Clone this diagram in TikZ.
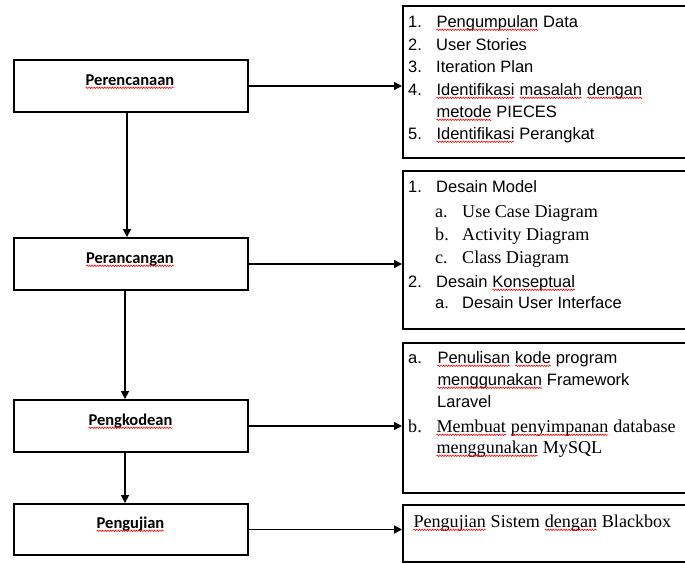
\documentclass[tikz,border=0pt]{standalone}
\usepackage{fontspec}
\usetikzlibrary{arrows.meta,decorations.pathmorphing}
\newfontfamily\arialf{Liberation Sans}
\newfontfamily\tnrf{Liberation Serif}
\newfontfamily\calibf{Carlito}
\newcommand\spl[1]{\tikz[baseline=(sq.base),x=1pt,y=1pt]{\node[inner sep=0pt,outer sep=0pt,anchor=base] (sq) at (0,0) {#1};
 \draw[red, line width=0.6pt, decorate, decoration={snake, amplitude=0.7pt, segment length=2.6pt}] ([yshift=-2.8pt]sq.base west) -- ([yshift=-2.8pt]sq.base east);}}
\tikzset{
 lbox/.style={draw, line width=1.8pt, minimum width=234pt, minimum height=52pt, inner sep=0pt},
 rbox/.style={draw, line width=1.8pt, minimum width=298pt, inner sep=0pt, anchor=north west},
 ltxt/.style={anchor=base, inner sep=0pt, font=\calibf\bfseries\fontsize{16.5}{20}\selectfont},
 atxt/.style={anchor=base west, inner sep=0pt, font=\arialf\fontsize{16.5}{20}\selectfont},
 ttxt/.style={anchor=base west, inner sep=0pt, font=\tnrf\fontsize{18.1}{22}\selectfont},
 arr/.style={line width=1.5pt, -{Triangle[length=8pt,width=8pt]}}
}
\begin{document}
\begin{tikzpicture}[x=1pt,y=-1pt]
\useasboundingbox (0,0) rectangle (685,563);
\fill[white] (0,0) rectangle (685,563);
\clip (0,0) rectangle (685,563);
% left boxes
\node[lbox] (p1) at (131,86) {};
\node[lbox] (p2) at (131,264) {};
\node[lbox] (p3) at (131,426) {};
\node[lbox, minimum height=51pt] (p4) at (131,529.5) {};
\node[ltxt] (t1) at (130,85) {\spl{Perencanaan}};
\node[ltxt] (t2) at (130,263) {\spl{Perancangan}};
\node[ltxt] (t3) at (130.5,425) {\spl{Pengkodean}};
\node[ltxt] (t4) at (130.5,528) {\spl{Pengujian}};
% right boxes
\node[rbox, minimum height=152pt] (r1) at (402,5) {};
\node[rbox, minimum height=158pt] (r2) at (402,170) {};
\node[rbox, minimum height=150pt] (r3) at (402,342) {};
\node[rbox, minimum height=57pt] (r4) at (402,504) {};
% box 1 text
\node[atxt] (a1n) at (408,27) {1.};
\node[atxt] (a1t) at (436,27) {\spl{Pengumpulan} Data};
\node[atxt] (a2n) at (408,50) {2.};
\node[atxt] (a2t) at (436,50) {User Stories};
\node[atxt] (a3n) at (408,72) {3.};
\node[atxt] (a3t) at (436,72) {Iteration Plan};
\node[atxt] (a4n) at (408,95) {4.};
\node[atxt] (a4t) at (436,95) {\spl{Identifikasi} \spl{masalah} \spl{dengan}};
\node[atxt] (a4u) at (436,117) {\spl{metode} PIECES};
\node[atxt] (a5n) at (408,139) {5.};
\node[atxt] (a5t) at (436,139) {\spl{Identifikasi} Perangkat};
% box 2 text
\node[atxt] (b1n) at (408,192) {1.};
\node[atxt] (b1t) at (436,192) {Desain Model};
\node[ttxt] (b2n) at (435,217) {a.};
\node[ttxt] (b2t) at (462,217) {Use Case Diagram};
\node[ttxt] (b3n) at (435,240) {b.};
\node[ttxt] (b3t) at (462,240) {Activity Diagram};
\node[ttxt] (b4n) at (435,263) {c.};
\node[ttxt] (b4t) at (462,263) {Class Diagram};
\node[atxt] (b5n) at (408,287) {2.};
\node[atxt] (b5t) at (436,287) {Desain \spl{Konseptual}};
\node[atxt] (b6n) at (435,308) {a.};
\node[atxt] (b6t) at (462,308) {Desain User Interface};
% box 3 text
\node[atxt] (c1n) at (408,363) {a.};
\node[atxt] (c1t) at (437,363) {\spl{Penulisan} \spl{kode} program};
\node[atxt] (c2t) at (437,385) {\spl{menggunakan} Framework};
\node[atxt] (c3t) at (437,407) {Laravel};
\node[ttxt] (c4n) at (408,432) {b.};
\node[ttxt] (c4t) at (436,432) {\spl{Membuat} \spl{penyimpanan} database};
\node[ttxt] (c5t) at (436,453) {\spl{menggunakan} MySQL};
% box 4 text
\node[ttxt] (d1t) at (413,527) {\spl{Pengujian} Sistem \spl{dengan} Blackbox};
% arrows
\draw[arr] ([xshift=-4pt]p1.south) -- ([xshift=-4pt]p2.north);
\draw[arr] ([xshift=-6pt]p2.south) -- ([xshift=-6pt]p3.north);
\draw[arr] ([xshift=-6pt]p3.south) -- ([xshift=-6pt]p4.north);
\draw[arr] (p1.east) -- (p1.east -| r1.west);
\draw[arr] (p2.east) -- (p2.east -| r2.west);
\draw[arr] (p3.east) -- (p3.east -| r3.west);
\draw[arr] (p4.east) -- (p4.east -| r4.west);
\end{tikzpicture}
\end{document}
